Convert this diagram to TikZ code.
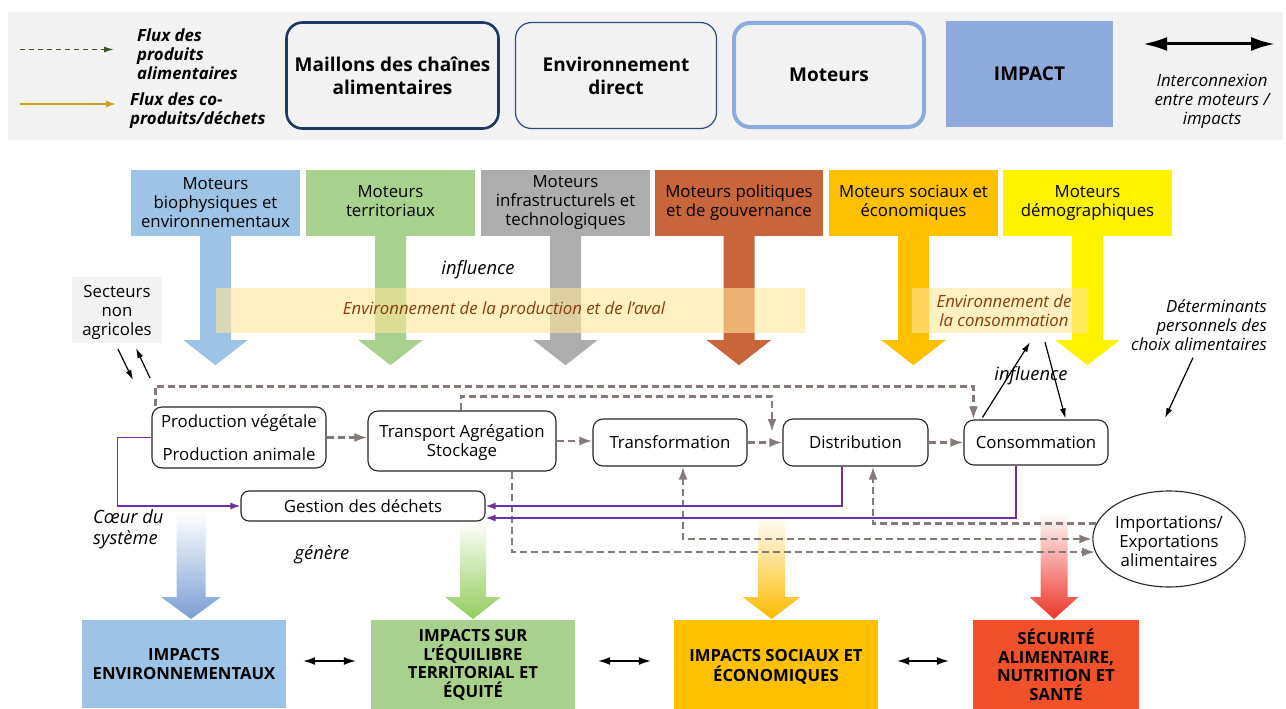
\documentclass[tikz,border=0pt]{standalone}
\usepackage{fontspec}
\setmainfont{Open Sans}
\usetikzlibrary{arrows.meta,shapes.geometric,calc}
\definecolor{leggray}{RGB}{242,242,242}
\definecolor{navy}{RGB}{31,56,100}
\definecolor{navyb}{RGB}{47,74,125}
\definecolor{motblue}{RGB}{143,170,220}
\definecolor{impblue}{RGB}{142,169,219}
\definecolor{fgreen}{RGB}{56,87,35}
\definecolor{fgold}{RGB}{204,160,32}
\definecolor{cblue}{RGB}{157,195,230}
\definecolor{cgreen}{RGB}{169,209,142}
\definecolor{cgray}{RGB}{173,173,173}
\definecolor{corange}{RGB}{201,101,58}
\definecolor{camber}{RGB}{255,192,0}
\definecolor{cyellow}{RGB}{255,242,0}
\definecolor{bandc}{RGB}{255,230,153}
\definecolor{envbrown}{RGB}{132,60,12}
\definecolor{fluxgray}{RGB}{132,122,122}
\definecolor{wastep}{RGB}{112,48,160}
\definecolor{gblue}{RGB}{122,158,212}
\definecolor{ggreen}{RGB}{146,204,92}
\definecolor{gorange}{RGB}{255,186,0}
\definecolor{gred}{RGB}{236,52,40}
\definecolor{ired}{RGB}{240,80,42}
\newcommand{\fsbody}{\fontsize{16.8}{19}\selectfont}
\newcommand{\fslab}{\fontsize{18.3}{21}\selectfont\itshape}
\newcommand{\fsleg}{\fontsize{19}{23}\selectfont\bfseries}
\newcommand{\fsimp}{\fontsize{16.7}{19.5}\selectfont\bfseries}
\newcommand{\fsimpq}{\fontsize{16.7}{18.5}\selectfont\bfseries}
\newcommand{\motarrow}[2]{%
  \fill[#2] ($(#1.south)+(-15.5,0)$) -- ($(#1.south)+(-15.5,104)$) -- ($(#1.south)+(-32,104)$)
   -- ($(#1.south)+(0,129)$) -- ($(#1.south)+(32,104)$) -- ($(#1.south)+(15.5,104)$)
   -- ($(#1.south)+(15.5,0)$) -- cycle;}
\newcommand{\genarrow}[5]{%
  \shade[top color=white, bottom color=#5] ({#1-#3},#2) -- ({#1-#3},597) -- ({#1-#4},597)
   -- (#1,619) -- ({#1+#4},597) -- ({#1+#3},597) -- ({#1+#3},#2) -- cycle;}
\tikzset{
  chainbox/.style={draw=black!85, line width=1.1pt, rounded corners=10pt, fill=white, inner sep=0pt, align=center, font=\fsbody},
  motbox/.style={inner sep=0pt, align=center, font=\fsbody, minimum width=169pt, minimum height=66pt},
  impbox/.style={inner sep=0pt, align=center, font=\fsimp, minimum width=204pt, minimum height=88pt},
  legbox/.style={fill=leggray, rounded corners=16pt, inner sep=0pt, align=center, font=\fsleg},
  band/.style={fill=bandc, fill opacity=0.6, text opacity=1, inner sep=0pt, minimum height=45pt},
  bandtxt/.style={font=\fsbody\itshape, text=envbrown, align=center, inner sep=0pt},
  flux/.style={draw=fluxgray, line width=2.3pt, dash pattern=on 7pt off 4pt, -{Latex[length=13pt,width=9pt]}},
  fluxboth/.style={draw=fluxgray, line width=2.3pt, dash pattern=on 7pt off 4pt, {Latex[length=13pt,width=9pt]}-{Latex[length=13pt,width=9pt]}},
  waste/.style={draw=wastep, line width=1.5pt, -{Latex[length=10pt,width=7pt]}},
  blk/.style={draw=black, line width=1.2pt, -{Latex[length=10pt,width=6pt]}},
  dbl/.style={draw=black, line width=1.3pt, {Latex[length=12pt,width=8pt]}-{Latex[length=12pt,width=8pt]}},
  lab/.style={font=\fslab, inner sep=0pt},
  legtxt/.style={font=\fsbody\bfseries\itshape, align=left, inner sep=0pt, anchor=west},
}
\begin{document}
\begin{tikzpicture}[x=1pt,y=-1pt]
\useasboundingbox (0,0) rectangle (1286,709);
\fill[white] (0,0) rectangle (1286,709);
% ---------- legend ----------
\fill[leggray] (8,12) rectangle (1283,140);
\coordinate (lg1a) at (20,49.5); \coordinate (lg1b) at (114,49.5);
\draw[draw=fgreen, line width=1.3pt, dash pattern=on 5pt off 4pt, -{Latex[length=10pt,width=6pt]}] (lg1a) -- (lg1b);
\node[legtxt] (lgt1) at (137,54) {Flux des\\produits\\alimentaires};
\coordinate (lg2a) at (20,104); \coordinate (lg2b) at (116,104);
\draw[draw=fgold, line width=1.6pt, -{Latex[length=10pt,width=7pt]}] (lg2a) -- (lg2b);
\node[legtxt] (lgt2) at (130,110.5) {Flux des co-\\produits/déchets};
\node[legbox, draw=navy, line width=2.6pt, minimum width=212pt, minimum height=106pt] (lmail) at (392.5,75.5) {Maillons des chaînes\\alimentaires};
\node[legbox, draw=navyb, line width=1.2pt, minimum width=201pt, minimum height=106pt] (lenv) at (616,75.5) {Environnement\\direct};
\node[legbox, draw=motblue, line width=4pt, minimum width=190pt, minimum height=104pt] (lmot) at (829,75) {Moteurs};
\node[fill=impblue, inner sep=0pt, minimum width=167pt, minimum height=106pt, font=\fsleg] (limp) at (1029.5,74) {IMPACT};
\coordinate (lda) at (1143,44); \coordinate (ldb) at (1275,44);
\draw[line width=3pt, {Latex[length=24pt,width=14pt]}-{Latex[length=24pt,width=14pt]}] (lda) -- (ldb);
\node[font=\fsbody\itshape, align=center, inner sep=0pt] (ldt) at (1212,101) {Interconnexion\\entre moteurs /\\impacts};
% ---------- moteurs ----------
\node[motbox, fill=cblue] (m1) at (215.5,203) {Moteurs\\biophysiques et\\environnementaux};
\node[motbox, fill=cgreen] (m2) at (390.5,203) {Moteurs\\territoriaux\vphantom{g}};
\node[motbox, fill=cgray] (m3) at (565.5,203) {Moteurs\\infrastructurels et\\technologiques};
\node[motbox, fill=corange, minimum width=168pt] (m4) at (739,203) {Moteurs politiques\\et de gouvernance};
\node[motbox, fill=camber] (m5) at (913.5,203) {Moteurs sociaux et\\économiques};
\node[motbox, fill=cyellow] (m6) at (1087.5,203) {Moteurs\\démographiques};
\motarrow{m1}{cblue}
\motarrow{m2}{cgreen}
\motarrow{m3}{cgray}
\motarrow{m4}{corange}
\motarrow{m5}{camber}
\motarrow{m6}{cyellow}
% ---------- environment bands ----------
\node[band, minimum width=589pt] (envprod) at (510.5,310.5) {};
\node[bandtxt] (envprodt) at (504,310) {Environnement de la production et de l’aval};
\node[band, minimum width=176pt] (envcons) at (1000,310.5) {};
\node[bandtxt] (envconst) at (1004,310.5) {Environnement de\\la consommation};
\node[lab] (infl1) at (478,270) {influence};
\node[lab] (infl2) at (1031,376) {influence};
% ---------- side texts ----------
\node[fill=leggray, minimum width=90pt, minimum height=66pt, font=\fsbody, align=center, inner sep=0pt] (sect) at (117,310) {Secteurs\\non\\\smash{agricoles}};
\coordinate (s1) at (133,380);
\coordinate (s2) at (150,378);
\draw[blk] ($(sect.south)+(1,6)$) -- (s1);
\draw[blk] (s2) -- ($(sect.south)+(19,5)$);
\node[font=\fsbody\itshape, align=right, anchor=east, inner sep=0pt] (det) at (1267,325) {Déterminants\\personnels des\\choix alimentaires};
\coordinate (detend) at (1165,418);
\draw[blk] ($(det.south)+(-6,7)$) -- (detend);
\node[lab, align=left, anchor=west] (coeur) at (93,529) {Cœur du\\système};
\node[lab] (gen) at (322,555) {génère};
% ---------- gradient arrows ----------
\genarrow{191}{513}{14.5}{30}{gblue}
\genarrow{473}{521}{13}{28}{ggreen}
\genarrow{771.5}{514}{13.5}{29}{gorange}
\genarrow{1054}{512}{13.5}{24.5}{gred}
% ---------- impacts ----------
\node[impbox, fill=cblue] (ienv) at (184,664) {IMPACTS\\ENVIRONNEMENTAUX};
\node[impbox, font=\fsimpq, fill=cgreen, minimum height=90pt] (iterr) at (473,665) {IMPACTS SUR\\L’ÉQUILIBRE\\TERRITORIAL ET\\ÉQUITÉ};
\node[impbox, fill=camber, minimum height=94pt] (isoc) at (776,667) {IMPACTS SOCIAUX ET\\ÉCONOMIQUES};
\node[impbox, font=\fsimpq, fill=ired, minimum width=166pt, minimum height=90pt] (isec) at (1056,665) {SÉCURITÉ\\ALIMENTAIRE,\\NUTRITION ET\\SANTÉ};
\draw[dbl, shorten <=17pt, shorten >=15pt] ($(ienv.east)+(0,-3)$) -- ($(ienv.east -| iterr.west)+(0,-3)$);
\draw[dbl, shorten <=23pt, shorten >=23pt] ($(ienv.east -| iterr.east)+(0,-3)$) -- ($(ienv.east -| isoc.west)+(0,-3)$);
\draw[dbl, shorten <=19pt, shorten >=24pt] ($(ienv.east -| isoc.east)+(0,-3)$) -- ($(ienv.east -| isec.west)+(0,-3)$);
% ---------- chain ----------
\node[chainbox, minimum width=174pt, minimum height=61pt] (prod) at (239,437.5) {Production végétale\\[14pt]Production animale};
\node[chainbox, minimum width=188pt, minimum height=60pt] (transp) at (462,441) {Transport Agrégation\\\smash{Stockage}};
\node[chainbox, minimum width=154pt, minimum height=47pt] (transf) at (670,442.5) {Transformation};
\node[chainbox, minimum width=145pt, minimum height=47pt] (distrib) at (855.5,442.5) {Distribution};
\node[chainbox, minimum width=144pt, minimum height=45pt] (conso) at (1036,442.5) {Consommation};
\node[chainbox, rounded corners=8pt, minimum width=244pt, minimum height=30pt] (gestion) at (363,506) {Gestion des déchets};
\node[draw=black!85, line width=1.1pt, ellipse, fill=white, minimum width=148pt, minimum height=96pt, inner sep=0pt, font=\fsbody, align=center] (imports) at (1169,539) {\rule{0pt}{18pt}Importations/\\Exportations\\alimentaires};
% food flows
\draw[flux] (prod.east) -- (prod.east -| transp.west);
\draw[flux] (transp.east) -- (transp.east -| transf.west);
\draw[flux] (transf.east) -- (distrib.west);
\draw[flux] (distrib.east) -- (conso.west);
\draw[flux] ($(prod.north west)+(4,0)$) -- ++(0,-20) -| ($(conso.north west)+(10,0)$);
\coordinate (tdi) at (772,432);
\draw[flux] ($(transp.north)+(-1,0)$) -- ++(0,-14) -| (tdi);
\draw[flux] ($(transp.south)+(50,0)$) |- (imports.190);
\draw[fluxboth] ($(transf.south)+(13,0)$) |- (imports.west);
\draw[flux] (imports.168) -| ($(distrib.south)+(17.5,0)$);
% waste flows
\draw[waste] (prod.west) -- ++(-34,0) |- (gestion.west);
\draw[waste] ($(distrib.south)+(-13.5,0)$) |- (gestion.east);
\draw[waste] ($(conso.south)+(-20,0)$) |- ($(gestion.east)+(0,12)$);
% influence arrows
\draw[blk] ($(conso.north west)+(19,-2)$) -- ($(envcons.south)+(30,9)$);
\draw[blk] ($(envcons.south)+(45,9)$) -- ($(conso.north west)+(102,-1)$);
\end{tikzpicture}
\end{document}
